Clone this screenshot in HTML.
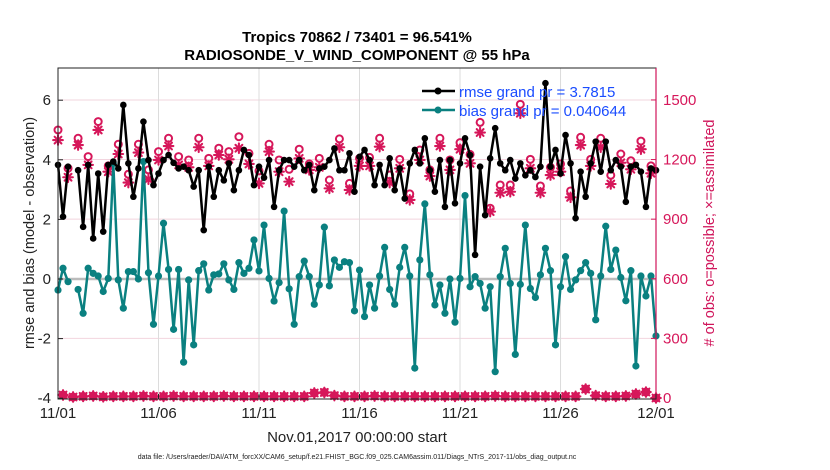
<!DOCTYPE html>
<html><head><meta charset="utf-8"><style>
body{margin:0;background:#fff;}
svg{display:block;font-family:"Liberation Sans",Arial,sans-serif;}
</style></head><body>
<svg id="chart" width="830" height="470" viewBox="0 0 830 470">
<text x="357" y="42" text-anchor="middle" font-size="15" font-weight="bold">Tropics 70862 / 73401 = 96.541%</text>
<text x="357" y="60" text-anchor="middle" font-size="15" font-weight="bold">RADIOSONDE_V_WIND_COMPONENT @ 55 hPa</text>
<g id="grid"></g>
<g id="marks"></g>
<rect x="58" y="68" width="598" height="331" fill="none" stroke="#222" stroke-width="1"/>
<line x1="656" y1="68" x2="656" y2="399" stroke="#d0145a" stroke-width="1.2"/>
<g id="axes"></g>
<text transform="translate(34,233) rotate(-90)" text-anchor="middle" font-size="14.5" fill="#222">rmse and bias (model - observation)</text>
<text transform="translate(714,233) rotate(-90)" text-anchor="middle" font-size="14.5" fill="#d0145a"># of obs: o=possible; ×=assimilated</text>
<text x="357" y="442" text-anchor="middle" font-size="15" fill="#222">Nov.01,2017 00:00:00 start</text>
<text x="357" y="459" text-anchor="middle" font-size="7" fill="#222">data file: /Users/raeder/DAI/ATM_forcXX/CAM6_setup/f.e21.FHIST_BGC.f09_025.CAM6assim.011/Diags_NTrS_2017-11/obs_diag_output.nc</text>
<g id="legend">
<line x1="422" y1="91" x2="455" y2="91" stroke="#000" stroke-width="2.5"/>
<circle cx="438" cy="91" r="3.5" fill="#000"/>
<text x="459" y="97" font-size="15" fill="#1a4cff">rmse grand pr = 3.7815</text>
<line x1="422" y1="110" x2="455" y2="110" stroke="#0a8080" stroke-width="2.5"/>
<circle cx="438" cy="110" r="3.5" fill="#0a8080"/>
<text x="459" y="116" font-size="15" fill="#1a4cff">bias grand pr = 0.040644</text>
</g>
</svg>
<script>
const rmse=[3.83,2.09,3.77,null,3.65,1.75,3.83,1.36,3.54,1.59,
3.83,3.94,3.71,5.84,3.88,2.76,3.71,5.28,3.99,3.15,
3.54,3.99,4.16,3.9,3.71,3.77,3.65,3.1,3.65,1.64,
3.77,2.76,3.65,3.31,3.88,2.98,3.65,4.33,4.16,3.15,
3.77,3.4,3.99,2.42,3.65,3.99,3.99,3.77,3.99,3.65,
3.83,2.98,3.71,3.77,3.99,4.38,3.65,3.65,4.22,2.93,
4.1,4.33,3.99,3.15,3.83,3.15,4.05,2.98,3.71,2.7,
3.88,4.33,3.88,4.72,3.65,2.93,3.99,2.42,3.99,2.54,
3.88,4.72,4.16,0.81,3.77,2.14,4.05,5.06,3.88,3.65,
3.99,3.37,3.88,3.48,3.65,3.42,3.77,6.57,3.77,4.33,
3.54,4.83,3.88,2.04,3.6,2.76,3.88,4.61,3.6,4.61,
3.65,3.99,3.77,2.59,3.77,3.83,3.6,2.42,3.71,3.65];
const bias=[-0.37,0.36,-0.09,null,-0.35,-1.15,0.36,0.19,0.10,-0.42,
0.02,3.88,-0.03,-0.98,0.25,0.25,0.0,3.94,0.21,-1.52,
0.10,1.87,0.32,-1.69,0.32,-2.79,-0.03,-2.21,0.28,0.51,
-0.37,0.14,0.17,0.51,-0.03,-0.35,0.55,0.19,0.36,1.31,
0.27,1.81,0.02,-0.74,-0.12,2.28,-0.33,-1.52,0.08,0.60,
0.08,-0.85,-0.2,1.74,-0.23,0.64,0.39,0.58,0.55,-1.07,
0.30,-1.26,-0.2,-0.98,0.1,1.06,-0.35,-0.85,0.39,1.06,
0.10,-2.99,0.64,2.52,0.14,-0.87,-0.2,-1.15,0.0,-1.45,
0.02,2.8,-0.26,0.08,-0.15,-0.98,-0.26,-3.11,0.08,1.03,
-0.15,-2.53,-0.18,1.81,-0.32,-0.62,0.14,1.03,0.28,-2.21,
-0.26,0.75,-0.35,-0.03,0.28,0.55,0.19,-1.37,0.10,1.77,
0.32,0.97,0.05,-0.73,0.28,-2.92,0.1,-0.57,0.1,-1.91];
const possibleMain=[1349,1156,1307,1215,1391,1168,1277,1126,1277,1148,1240,1307,1215,1198,1307,1206,
1257,1240,1315,1231,1143,1277,1198,1151,1252,1178,1206,1097,1304,1080,
1206,1211,1307,1122,1201,1027,1248,1148,1307,1198,1285,1226,1387,955,1072,
1072,1478,1201,1067,1161,1178,1042,1312,1201,1307,1121,1228,1194,1293,1168];
const assimMain=[1298,1111,1273,1173,1349,1139,1228,1084,1235,1101,1198,1268,1173,1161,1262,1168,
1223,1201,1257,1178,1080,1240,1139,1089,1206,1148,1161,1055,1262,1047,
1168,1168,1265,1084,1156,997,1198,1117,1268,1148,1252,1181,1336,938,1033,
1038,1433,1156,1033,1122,1139,1010,1273,1168,1262,1077,1184,1151,1252,1131];
const possibleLow=[15,5,8,10,6,8,8,8,10,8,8,10,8,8,8,8,10,8,8,8,8,8,8,8,8,25,28,12,8,8,
8,10,8,8,8,8,8,8,8,8,8,8,8,10,8,8,8,8,8,8,8,8,45,12,8,8,10,20,30,0];
const assimLow=possibleLow.map(v=>v);
const yLeftTicks=[6,4,2,0,-2,-4];
const yRightTicks=[1500,1200,900,600,300,0];
const xTickDays=[0,5,10,15,20,25,30];
const xTickLabels=["11/01","11/06","11/11","11/16","11/21","11/26","12/01"];

const NS="http://www.w3.org/2000/svg";
const X0=58,X1=656,NPTS=120;
const xs=i=>X0+i*(X1-X0)/(NPTS-1);
const xDay=d=>xs(Math.min(d*4,NPTS-1));
const yL=v=>279-v*29.8;
const yR=c=>398-c*0.1987;
const PINK="#d6175a",TEAL="#0a8080";
function mk(tag,attrs,parent){const e=document.createElementNS(NS,tag);for(const k in attrs)e.setAttribute(k,attrs[k]);parent.appendChild(e);return e;}
const grid=document.getElementById('grid'),marks=document.getElementById('marks'),axes=document.getElementById('axes');

yRightTicks.forEach(t=>{if(t>0&&t<1600){const l=mk('line',{x1:X0,x2:X1,y1:yR(t),y2:yR(t),stroke:'#f2d4de','stroke-width':1},grid);

}});
xTickDays.forEach(d=>{if(d>0&&d<30){const l=mk('line',{x1:xDay(d),x2:xDay(d),y1:68,y2:399,stroke:'#dcdcdc','stroke-width':1},grid);

}});
const zl=mk('line',{x1:X0,x2:X1,y1:yL(0),y2:yL(0),stroke:'#bbbbbb','stroke-width':2.5},grid);



function series(vals,color,r,name){
  let d='',pen=false;
  vals.forEach((v,i)=>{if(v===null){pen=false;return;}d+=(pen?'L':'M')+xs(i).toFixed(1)+','+yL(v).toFixed(1);pen=true;});
  const p=mk('path',{d:d,fill:'none',stroke:color,'stroke-width':2.5,'stroke-linejoin':'round'},marks);
  
  
  vals.forEach((v,i)=>{if(v===null)return;const c=mk('circle',{cx:xs(i),cy:yL(v),r:r,fill:color},marks);
  
  });
}
function star(x,y,parent){
  const g=mk('g',{stroke:PINK,'stroke-width':2.1,'stroke-linecap':'round'},parent);
  
  
  for(let a=0;a<4;a++){const ang=a*Math.PI/4,dx=4.8*Math.cos(ang),dy=4.8*Math.sin(ang);mk('line',{x1:x-dx,y1:y-dy,x2:x+dx,y2:y+dy},g);}
}
function ring(x,y,parent){const c=mk('circle',{cx:x,cy:y,r:3.5,fill:'none',stroke:PINK,'stroke-width':2},parent);

}

possibleMain.forEach((v,k)=>ring(xs(2*k),yR(v),marks));
assimMain.forEach((v,k)=>star(xs(2*k),yR(v),marks));
possibleLow.forEach((v,k)=>ring(xs(2*k+1),yR(v),marks));
assimLow.forEach((v,k)=>star(xs(2*k+1),yR(v),marks));
series(bias,TEAL,3.6,'bias');
series(rmse,'#000',3.3,'rmse');

yLeftTicks.forEach(t=>{const y=yL(t);mk('line',{x1:X0,x2:X0+5,y1:y,y2:y,stroke:'#222'},axes);
const tx=mk('text',{x:X0-7,y:y+5,'text-anchor':'end','font-size':15,fill:'#222'},axes);tx.textContent=t;

});
yRightTicks.forEach(t=>{const y=yR(t);mk('line',{x1:X1-5,x2:X1,y1:y,y2:y,stroke:PINK},axes);
const tx=mk('text',{x:X1+7,y:y+5,'font-size':15,fill:PINK},axes);tx.textContent=t;

});
xTickDays.forEach((d,k)=>{const x=xDay(d);mk('line',{x1:x,x2:x,y1:399,y2:394,stroke:'#222'},axes);
const tx=mk('text',{x:x,y:418,'text-anchor':'middle','font-size':15,fill:'#222'},axes);tx.textContent=xTickLabels[k];

});
</script>
</body></html>
